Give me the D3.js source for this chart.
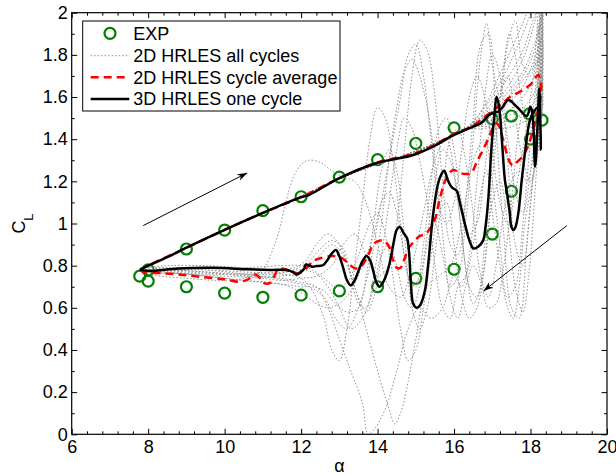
<!DOCTYPE html>
<html>
<head>
<meta charset="utf-8">
<script src="https://cdn.jsdelivr.net/npm/d3@7"></script>
<style>
  body { margin: 0; background: #fff; }
  text { font-family: "Liberation Sans", Arial, sans-serif; }
</style>
</head>
<body>
<svg id="chart" width="616" height="476"></svg>
<script>
// experiment points [alpha, CL]
const expPts = [
  [7.78, 0.75], [8.0, 0.727], [8.0, 0.78], [9, 0.879], [10, 0.969], [11, 1.061], [12, 1.127],
  [13, 1.22], [14, 1.303], [15, 1.38], [16, 1.454], [17, 1.496], [17.5, 1.51], [17.97, 1.52],
  [18.3, 1.49], [18.0, 1.40], [17.5, 1.153], [17, 0.95], [16, 0.783], [15, 0.74], [14, 0.70],
  [13, 0.68], [12, 0.66], [11, 0.65], [10, 0.67], [9, 0.70]
];

// 3D HRLES one cycle
const les3d = [
  [7.78, 0.78], [8.0, 0.80], [8.5, 0.84], [9.0, 0.885], [10.0, 0.97], [11.0, 1.05], [12.0, 1.125],
  [12.2, 1.135], [13.0, 1.215], [14.0, 1.288], [14.5, 1.307], [14.93, 1.325], [15.5, 1.37],
  [16.0, 1.42], [16.5, 1.46], [16.72, 1.478], [16.9, 1.512], [17.05, 1.528], [17.15, 1.53],
  [17.26, 1.55], [17.42, 1.586], [17.64, 1.554], [17.9, 1.51], [18.0, 1.554], [18.06, 1.50],
  [18.12, 1.27], [18.18, 1.45], [18.23, 1.64], [18.26, 1.45], [18.27, 1.35], [18.2, 1.55],
  [18.05, 1.52], [17.97, 1.48], [17.9, 1.40], [17.83, 1.30], [17.77, 1.206], [17.68, 1.048],
  [17.6, 0.98], [17.55, 0.969], [17.5, 0.985], [17.45, 1.06], [17.38, 1.15], [17.33, 1.206],
  [17.25, 1.40], [17.2, 1.52], [17.15, 1.58], [17.11, 1.60], [17.06, 1.52], [16.98, 1.364],
  [16.9, 1.127], [16.82, 0.98], [16.76, 0.92], [16.63, 0.89], [16.5, 0.882], [16.42, 0.91],
  [16.37, 0.937], [16.28, 1.0], [16.15, 1.10], [16.07, 1.155], [15.94, 1.172], [15.85, 1.20],
  [15.74, 1.25], [15.66, 1.23], [15.57, 1.18], [15.45, 1.04], [15.32, 0.80], [15.24, 0.685],
  [15.12, 0.615], [15.02, 0.60], [14.93, 0.62], [14.87, 0.72], [14.82, 0.87], [14.77, 0.93],
  [14.68, 0.955], [14.58, 0.984], [14.5, 0.97], [14.42, 0.91], [14.3, 0.80], [14.17, 0.73],
  [14.05, 0.70], [13.97, 0.72], [13.88, 0.78], [13.8, 0.827], [13.71, 0.846], [13.6, 0.82],
  [13.5, 0.775], [13.4, 0.73], [13.3, 0.706], [13.2, 0.73], [13.1, 0.79], [13.0, 0.845],
  [12.91, 0.874], [12.8, 0.857], [12.68, 0.825], [12.58, 0.803], [12.4, 0.798], [12.3, 0.795],
  [12.12, 0.805], [12.08, 0.785], [11.97, 0.767], [11.88, 0.758], [11.8, 0.768], [11.62, 0.779],
  [11.2, 0.78], [10.6, 0.783], [9.7, 0.79], [8.8, 0.787], [8.05, 0.775], [7.78, 0.78]
];

// 2D HRLES cycle average
const les2dAvg = [
  [7.8, 0.78], [8.0, 0.80], [9.0, 0.885], [10.0, 0.97], [11.0, 1.05], [12.0, 1.125], [13.0, 1.215],
  [14.0, 1.29], [14.93, 1.33], [15.5, 1.375], [16.0, 1.425], [16.5, 1.465], [16.9, 1.52],
  [17.33, 1.58], [17.46, 1.60], [17.77, 1.63], [18.03, 1.665], [18.12, 1.69], [18.2, 1.705],
  [18.26, 1.68], [18.28, 1.64], [18.25, 1.58], [18.2, 1.54], [18.12, 1.48], [18.07, 1.445],
  [17.94, 1.37], [17.8, 1.32], [17.64, 1.29], [17.55, 1.275], [17.46, 1.29], [17.38, 1.33],
  [17.28, 1.40], [17.15, 1.47], [17.07, 1.475], [16.94, 1.42], [16.76, 1.35], [16.59, 1.29],
  [16.45, 1.24], [16.3, 1.235], [16.15, 1.24], [15.98, 1.254], [15.8, 1.215], [15.63, 1.12],
  [15.5, 1.02], [15.37, 0.975], [15.24, 0.948], [15.1, 0.94], [14.93, 0.91], [14.8, 0.88],
  [14.7, 0.83], [14.6, 0.79], [14.5, 0.79], [14.4, 0.83], [14.3, 0.89], [14.15, 0.92],
  [14.0, 0.915], [13.88, 0.90], [13.78, 0.86], [13.68, 0.825], [13.56, 0.795], [13.42, 0.787],
  [13.3, 0.80], [13.15, 0.825], [13.02, 0.84], [12.9, 0.845], [12.75, 0.845], [12.5, 0.835],
  [12.3, 0.82], [12.15, 0.79], [12.0, 0.768], [11.9, 0.764], [11.78, 0.771], [11.62, 0.781],
  [11.49, 0.787], [11.38, 0.779], [11.3, 0.75], [11.2, 0.72], [11.1, 0.714], [11.01, 0.72],
  [10.9, 0.745], [10.8, 0.758], [10.7, 0.745], [10.55, 0.73], [10.35, 0.724], [10.0, 0.735],
  [9.44, 0.745], [8.92, 0.756], [8.4, 0.764], [7.87, 0.77], [7.8, 0.78]
];

// 2D HRLES all cycles (shared lower upstroke + per-cycle rest)
const grayUp = [
  [7.8, 0.78], [8.5, 0.84], [9.5, 0.93], [10.5, 1.01], [11.5, 1.09], [12.5, 1.17], [13.5, 1.25],
  [14.5, 1.31], [15.5, 1.38], [16.3, 1.45]
];
const gray1 = [
  [16.8, 1.52], [17.3, 1.62], [17.8, 1.78], [18.1, 1.95], [18.3, 2.1], [18.25, 1.7], [18.1, 1.3],
  [17.9, 0.9], [17.7, 0.55], [17.5, 0.6], [17.3, 0.95], [17.1, 1.45], [16.9, 1.9], [16.7, 1.85],
  [16.5, 1.5], [16.3, 1.1], [16.1, 0.85], [15.9, 0.9], [15.7, 1.2], [15.5, 1.6], [15.3, 1.82],
  [15.1, 1.87], [14.9, 1.7], [14.7, 1.35], [14.5, 1.0], [14.3, 0.8], [14.0, 0.75], [13.7, 0.85],
  [13.4, 0.95], [13.1, 0.9], [12.8, 0.8], [12.4, 0.75], [12.0, 0.74], [11.5, 0.73], [11.0, 0.74],
  [10.0, 0.75], [9.0, 0.76], [8.0, 0.77], [7.8, 0.78]
];
const gray2 = [
  [16.8, 1.48], [17.3, 1.52], [17.8, 1.6], [18.1, 1.7], [18.3, 1.9], [18.2, 1.5], [18.0, 1.1],
  [17.8, 0.8], [17.6, 0.9], [17.4, 1.3], [17.2, 1.7], [17.0, 1.8], [16.8, 1.6], [16.6, 1.2],
  [16.4, 0.85], [16.2, 0.7], [16.0, 0.75], [15.7, 0.6], [15.4, 0.55], [15.1, 0.6], [14.8, 0.5],
  [14.5, 0.3], [14.2, 0.12], [13.9, 0.02], [13.75, 0.0], [13.6, 0.15], [13.3, 0.3], [13.0, 0.45],
  [12.7, 0.6], [12.4, 0.7], [12.0, 0.72], [11.5, 0.74], [10.5, 0.75], [9.5, 0.77], [8.5, 0.78],
  [7.8, 0.78]
];
const gray3 = [
  [16.8, 1.55], [17.3, 1.7], [17.8, 1.9], [18.1, 2.05], [18.3, 2.2], [18.2, 1.8], [18.0, 1.4],
  [17.8, 1.0], [17.6, 0.7], [17.4, 0.65], [17.2, 0.9], [17.0, 1.2], [16.8, 1.4], [16.5, 1.3],
  [16.2, 1.0], [15.9, 0.8], [15.6, 0.75], [15.3, 0.7], [15.0, 0.45], [14.8, 0.25], [14.6, 0.1],
  [14.45, 0.05], [14.3, 0.12], [14.0, 0.3], [13.7, 0.5], [13.4, 0.7], [13.1, 0.85], [12.8, 0.9],
  [12.5, 0.85], [12.2, 0.8], [11.8, 0.76], [11.0, 0.75], [10.0, 0.76], [9.0, 0.77], [8.0, 0.78],
  [7.8, 0.78]
];
const gray4 = [
  [16.8, 1.47], [17.3, 1.48], [17.8, 1.52], [18.1, 1.58], [18.3, 1.7], [18.2, 1.4], [18.0, 1.2],
  [17.8, 1.3], [17.6, 1.5], [17.4, 1.7], [17.2, 1.6], [17.0, 1.3], [16.8, 0.9], [16.6, 0.65],
  [16.4, 0.7], [16.2, 0.95], [16.0, 1.25], [15.8, 1.4], [15.5, 1.3], [15.2, 1.05], [14.9, 0.8],
  [14.6, 0.65], [14.3, 0.7], [14.0, 0.9], [13.7, 1.1], [13.4, 1.2], [13.1, 1.22], [12.8, 1.25],
  [12.5, 1.29], [12.2, 1.3], [12.0, 1.28], [11.8, 1.22], [11.6, 1.1], [11.4, 0.95], [11.2, 0.85],
  [11.0, 0.78], [10.5, 0.74], [10.0, 0.73], [9.0, 0.74], [8.0, 0.76], [7.8, 0.78]
];
const gray5 = [
  [16.8, 1.53], [17.3, 1.66], [17.8, 1.82], [18.1, 1.98], [18.3, 2.05], [18.2, 1.85], [18.0, 1.6],
  [17.8, 1.35], [17.6, 1.15], [17.4, 1.0], [17.2, 1.1], [17.0, 1.35], [16.8, 1.6], [16.6, 1.7],
  [16.4, 1.6], [16.2, 1.35], [16.0, 1.1], [15.8, 1.0], [15.6, 1.1], [15.4, 1.4], [15.2, 1.7],
  [15.0, 1.85], [14.8, 1.8], [14.6, 1.6], [14.4, 1.4], [14.2, 1.2], [14.0, 1.0], [13.8, 0.8],
  [13.5, 0.6], [13.2, 0.5], [12.9, 0.55], [12.6, 0.65], [12.2, 0.7], [11.8, 0.72], [11.3, 0.74],
  [10.5, 0.76], [9.5, 0.78], [8.5, 0.79], [7.8, 0.79]
];
const gray6 = [
  [16.8, 1.5], [17.3, 1.57], [17.8, 1.68], [18.1, 1.75], [18.3, 1.8], [18.15, 1.55], [17.95, 1.45],
  [17.75, 1.6], [17.6, 1.8], [17.45, 1.9], [17.3, 1.75], [17.1, 1.4], [16.9, 1.0], [16.7, 0.7],
  [16.5, 0.62], [16.3, 0.8], [16.1, 1.1], [15.9, 1.3], [15.7, 1.35], [15.5, 1.2], [15.3, 0.95],
  [15.1, 0.75], [14.9, 0.7], [14.7, 0.85], [14.5, 1.05], [14.3, 1.15], [14.1, 1.1], [13.9, 0.95],
  [13.6, 0.8], [13.3, 0.68], [13.0, 0.62], [12.7, 0.6], [12.4, 0.62], [12.1, 0.66], [11.7, 0.7],
  [11.2, 0.72], [10.5, 0.73], [9.5, 0.75], [8.5, 0.77], [7.8, 0.78]
];
const gray7 = [
  [16.8, 1.46], [17.3, 1.45], [17.8, 1.48], [18.1, 1.5], [18.3, 1.6], [18.2, 1.35], [18.05, 1.2],
  [17.85, 1.0], [17.7, 0.7], [17.55, 0.55], [17.4, 0.6], [17.2, 0.8], [17.0, 1.05], [16.85, 1.25],
  [16.7, 1.15], [16.5, 0.9], [16.3, 0.75], [16.1, 0.7], [15.9, 0.55], [15.7, 0.6], [15.5, 0.8],
  [15.3, 1.1], [15.1, 1.3], [14.9, 1.45], [14.7, 1.5], [14.5, 1.35], [14.3, 1.1], [14.1, 0.85],
  [13.9, 0.65], [13.7, 0.58], [13.5, 0.65], [13.3, 0.75], [13.0, 0.9], [12.7, 0.95], [12.4, 0.9],
  [12.1, 0.82], [11.8, 0.79], [11.3, 0.78], [10.5, 0.79], [9.5, 0.8], [8.5, 0.8], [7.8, 0.79]
];
const gray8 = [
  [16.8, 1.5], [17.3, 1.6], [17.8, 1.72], [18.1, 1.85], [18.3, 1.95], [18.2, 1.6], [18.0, 1.25],
  [17.8, 1.05], [17.6, 1.15], [17.4, 1.4], [17.2, 1.55], [17.0, 1.5], [16.8, 1.25], [16.6, 1.0],
  [16.4, 0.95], [16.2, 1.1], [16.0, 1.35], [15.8, 1.5], [15.6, 1.45], [15.4, 1.2], [15.2, 0.9],
  [15.0, 0.7], [14.8, 0.75], [14.6, 1.0], [14.4, 1.3], [14.2, 1.5], [14.0, 1.55], [13.8, 1.4],
  [13.6, 1.1], [13.4, 0.8], [13.2, 0.5], [13.0, 0.35], [12.8, 0.4], [12.6, 0.55], [12.3, 0.68],
  [12.0, 0.74], [11.5, 0.76], [10.5, 0.77], [9.5, 0.78], [8.5, 0.78], [7.8, 0.78]
];
const gray9 = [
  [16.8, 1.45], [17.3, 1.5], [17.8, 1.55], [18.1, 1.62], [18.3, 1.75], [18.22, 1.45], [18.1, 1.1],
  [17.95, 0.75], [17.8, 0.58], [17.6, 0.7], [17.4, 1.0], [17.2, 1.2], [17.0, 1.1], [16.8, 0.8],
  [16.6, 0.6], [16.4, 0.55], [16.2, 0.65], [16.0, 0.9], [15.8, 1.1], [15.6, 1.05], [15.4, 0.85],
  [15.2, 0.6], [15.0, 0.4], [14.8, 0.35], [14.6, 0.5], [14.4, 0.75], [14.2, 0.95], [14.0, 1.05],
  [13.8, 1.0], [13.5, 0.85], [13.2, 0.72], [12.9, 0.7], [12.6, 0.74], [12.3, 0.78], [12.0, 0.8],
  [11.5, 0.8], [10.5, 0.79], [9.5, 0.79], [8.5, 0.79], [7.8, 0.78]
];
const gray10 = [
  [16.8, 1.56], [17.3, 1.75], [17.8, 1.95], [18.1, 2.1], [18.3, 2.3], [18.2, 2.0], [18.0, 1.7],
  [17.8, 1.75], [17.6, 1.96], [17.4, 1.85], [17.2, 1.6], [17.0, 1.75], [16.85, 1.95], [16.7, 1.8],
  [16.5, 1.4], [16.3, 1.0], [16.1, 0.75], [15.9, 0.7], [15.7, 0.85], [15.5, 1.0], [15.3, 0.9],
  [15.1, 0.7], [14.9, 0.6], [14.7, 0.65], [14.5, 0.8], [14.3, 0.9], [14.1, 0.85], [13.9, 0.7],
  [13.6, 0.55], [13.3, 0.5], [13.0, 0.6], [12.7, 0.7], [12.4, 0.76], [12.0, 0.78], [11.5, 0.77],
  [10.5, 0.76], [9.5, 0.76], [8.5, 0.77], [7.8, 0.78]
];
const gray11 = [
  [16.8, 1.49], [17.3, 1.55], [17.8, 1.65], [18.1, 1.78], [18.3, 1.88], [18.25, 1.55], [18.1, 1.35],
  [17.9, 1.2], [17.7, 1.25], [17.5, 1.2], [17.3, 1.05], [17.1, 0.8], [16.9, 0.65], [16.7, 0.75],
  [16.5, 1.05], [16.3, 1.3], [16.1, 1.45], [15.9, 1.4], [15.7, 1.15], [15.5, 0.85], [15.3, 0.6],
  [15.1, 0.5], [14.9, 0.6], [14.7, 0.95], [14.5, 1.25], [14.3, 1.35], [14.1, 1.25], [13.9, 1.0],
  [13.7, 0.75], [13.5, 0.6], [13.2, 0.58], [12.9, 0.62], [12.6, 0.68], [12.3, 0.7], [12.0, 0.7],
  [11.6, 0.71], [11.0, 0.72], [10.0, 0.74], [9.0, 0.76], [8.0, 0.77], [7.8, 0.78]
];
const gray12 = [
  [16.8, 1.51], [17.3, 1.58], [17.8, 1.7], [18.1, 1.82], [18.3, 2.0], [18.2, 1.7], [18.05, 1.5],
  [17.85, 1.55], [17.7, 1.45], [17.5, 1.1], [17.3, 0.8], [17.1, 0.62], [16.9, 0.6], [16.7, 0.72],
  [16.5, 0.8], [16.3, 0.7], [16.1, 0.55], [15.9, 0.65], [15.7, 0.95], [15.5, 1.3], [15.3, 1.55],
  [15.1, 1.7], [14.9, 1.78], [14.7, 1.72], [14.5, 1.55], [14.3, 1.3], [14.1, 1.0], [13.9, 0.75],
  [13.7, 0.6], [13.5, 0.62], [13.3, 0.75], [13.1, 0.88], [12.8, 0.92], [12.5, 0.88], [12.2, 0.82],
  [11.8, 0.78], [11.3, 0.76], [10.5, 0.76], [9.5, 0.77], [8.5, 0.78], [7.8, 0.78]
];
const grayTip = [
  [18.18, 1.35], [18.2, 1.95], [18.22, 1.4], [18.24, 2.1], [18.26, 1.45], [18.28, 2.05],
  [18.3, 1.5], [18.31, 2.1], [18.32, 1.55], [18.33, 2.0]
];

// arrow annotations [from, to]
const arrows = [
  [[7.87, 0.99], [10.59, 1.24]],
  [[18.95, 0.99], [16.77, 0.68]]
];

const xTicks = [6, 8, 10, 12, 14, 16, 18, 20];
const yTicks = [0, 0.2, 0.4, 0.6, 0.8, 1, 1.2, 1.4, 1.6, 1.8, 2];
const legendLabels = ['EXP', '2D HRLES all cycles', '2D HRLES cycle average', '3D HRLES one cycle'];

const W = 616, H = 476;
const margin = { top: 12.7, right: 9, bottom: 41.7, left: 71.7 };
const svg = d3.select('#chart');

const x = d3.scaleLinear().domain([6, 20]).range([margin.left, W - margin.right]);
const y = d3.scaleLinear().domain([0, 2]).range([H - margin.bottom, margin.top]);

svg.append('defs').append('clipPath').attr('id', 'clip')
  .append('rect')
  .attr('x', x(6)).attr('y', y(2))
  .attr('width', x(20) - x(6)).attr('height', y(0) - y(2));

svg.select('defs').append('marker')
  .attr('id', 'head')
  .attr('viewBox', '0 0 10 10')
  .attr('refX', 10).attr('refY', 5)
  .attr('markerWidth', 10).attr('markerHeight', 10)
  .attr('markerUnits', 'userSpaceOnUse')
  .attr('orient', 'auto')
  .append('path')
  .attr('d', 'M0,1.5 L10,5 L0,8.5 L3,5 Z')
  .attr('fill', '#000');

const line = d3.line()
  .x(d => x(d[0]))
  .y(d => y(d[1]))
  .curve(d3.curveCatmullRom.alpha(0.5));

const plot = svg.append('g').attr('clip-path', 'url(#clip)');

// circles first, lines over them
plot.selectAll('circle.exp')
  .data(expPts)
  .join('circle')
  .attr('class', 'exp')
  .attr('cx', d => x(d[0]))
  .attr('cy', d => y(d[1]))
  .attr('r', 5.5)
  .attr('fill', 'none')
  .attr('stroke', '#008000')
  .attr('stroke-width', 2.2);

const grayCycles = [gray1, gray2, gray3, gray4, gray5, gray6, gray7, gray8, gray9, gray10, gray11, gray12]
  .map(c => grayUp.concat(c));
grayCycles.push(grayTip);

plot.selectAll('path.gray')
  .data(grayCycles)
  .join('path')
  .attr('class', 'gray')
  .attr('d', line)
  .attr('fill', 'none')
  .attr('stroke', '#909090')
  .attr('stroke-width', 1)
  .attr('stroke-dasharray', '1.5,2');

plot.append('path')
  .datum(les2dAvg)
  .attr('d', line)
  .attr('fill', 'none')
  .attr('stroke', '#ff0000')
  .attr('stroke-width', 2.5)
  .attr('stroke-dasharray', '8,5');

plot.append('path')
  .datum(les3d)
  .attr('d', line)
  .attr('fill', 'none')
  .attr('stroke', '#000')
  .attr('stroke-width', 2.5);

// arrows
svg.selectAll('line.arrow')
  .data(arrows)
  .join('line')
  .attr('class', 'arrow')
  .attr('x1', d => x(d[0][0])).attr('y1', d => y(d[0][1]))
  .attr('x2', d => x(d[1][0])).attr('y2', d => y(d[1][1]))
  .attr('stroke', '#000')
  .attr('stroke-width', 1)
  .attr('marker-end', 'url(#head)');

// axes, MATLAB style: ticks inside on all four sides
const xMinor = d3.range(6, 20.001, 0.4).filter(v => Math.abs(v / 2 - Math.round(v / 2)) > 0.01);
const yMinor = d3.range(0.1, 2, 0.2);
const fmt = d => String(+d.toFixed(1));

function axisGroup(axis, tr) {
  const g = svg.append('g').attr('transform', tr).call(axis);
  g.select('.domain').remove();
  g.selectAll('line').attr('stroke', '#000');
  g.selectAll('text').attr('font-size', 18).attr('fill', '#000')
    .style('font-family', '"Liberation Sans", Arial, sans-serif');
  return g;
}

axisGroup(d3.axisBottom(x).tickValues(xTicks).tickFormat(fmt).tickSize(-5.5).tickPadding(6),
  `translate(0,${y(0)})`);
axisGroup(d3.axisBottom(x).tickValues(xMinor).tickFormat('').tickSize(-3), `translate(0,${y(0)})`);
axisGroup(d3.axisTop(x).tickValues(xTicks).tickFormat('').tickSize(-5.5), `translate(0,${y(2)})`);
axisGroup(d3.axisTop(x).tickValues(xMinor).tickFormat('').tickSize(-3), `translate(0,${y(2)})`);
axisGroup(d3.axisLeft(y).tickValues(yTicks).tickFormat(fmt).tickSize(-5.5).tickPadding(4),
  `translate(${x(6)},0)`);
axisGroup(d3.axisLeft(y).tickValues(yMinor).tickFormat('').tickSize(-3), `translate(${x(6)},0)`);
axisGroup(d3.axisRight(y).tickValues(yTicks).tickFormat('').tickSize(-5.5), `translate(${x(20)},0)`);
axisGroup(d3.axisRight(y).tickValues(yMinor).tickFormat('').tickSize(-3), `translate(${x(20)},0)`);

svg.append('rect')
  .attr('x', x(6)).attr('y', y(2))
  .attr('width', x(20) - x(6)).attr('height', y(0) - y(2))
  .attr('fill', 'none')
  .attr('stroke', '#000')
  .attr('stroke-width', 1.2);

// axis labels
svg.append('text')
  .attr('x', (x(6) + x(20)) / 2)
  .attr('y', 472)
  .attr('text-anchor', 'middle')
  .attr('font-size', 18)
  .text('α');

const yl = svg.append('text')
  .attr('transform', `translate(25,${(y(0) + y(2)) / 2}) rotate(-90)`)
  .attr('text-anchor', 'middle')
  .attr('font-size', 18);
yl.append('tspan').text('C');
yl.append('tspan').attr('font-size', 13).attr('dy', 8).text('L');

// legend
const lg = svg.append('g');
lg.append('rect')
  .attr('x', 82.7).attr('y', 21)
  .attr('width', 257.3).attr('height', 90)
  .attr('fill', '#fff')
  .attr('stroke', '#000')
  .attr('stroke-width', 1);

const rowY = [33.3, 55.7, 77.3, 99];
const lx0 = 90.7, lx1 = 129.3;

lg.append('circle')
  .attr('cx', (lx0 + lx1) / 2).attr('cy', rowY[0]).attr('r', 5.5)
  .attr('fill', 'none').attr('stroke', '#008000').attr('stroke-width', 2.2);
lg.append('line')
  .attr('x1', lx0).attr('x2', lx1).attr('y1', rowY[1]).attr('y2', rowY[1])
  .attr('stroke', '#909090').attr('stroke-width', 1).attr('stroke-dasharray', '1.5,2');
lg.append('line')
  .attr('x1', lx0).attr('x2', lx1).attr('y1', rowY[2]).attr('y2', rowY[2])
  .attr('stroke', '#ff0000').attr('stroke-width', 2.5).attr('stroke-dasharray', '8,5');
lg.append('line')
  .attr('x1', lx0).attr('x2', lx1).attr('y1', rowY[3]).attr('y2', rowY[3])
  .attr('stroke', '#000').attr('stroke-width', 2.5);

lg.selectAll('text')
  .data(legendLabels)
  .join('text')
  .attr('x', 133.3)
  .attr('y', (d, i) => rowY[i])
  .attr('dy', '0.36em')
  .attr('font-size', 18)
  .text(d => d);
</script>
</body>
</html>
